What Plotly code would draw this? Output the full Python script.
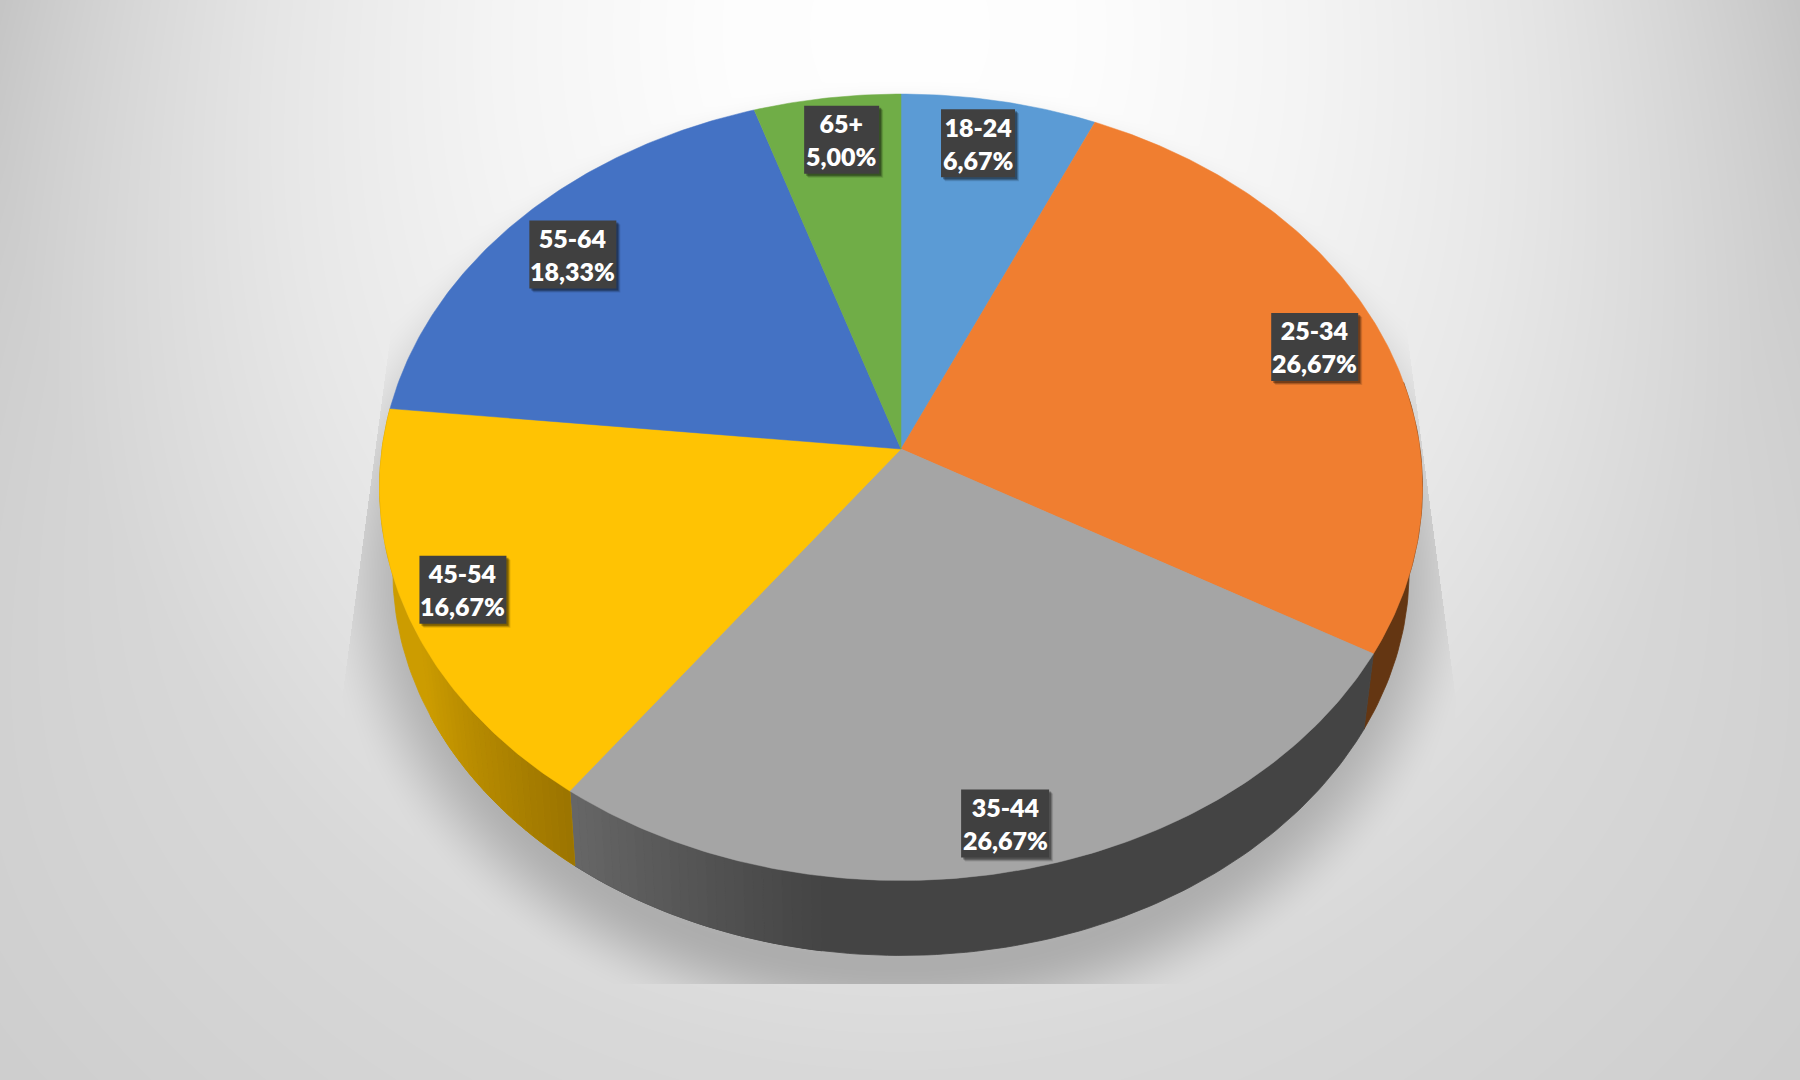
import base64, math, struct, zlib
import numpy as np
import plotly.graph_objects as go

categories = ["18-24", "25-34", "35-44", "45-54", "55-64", "65+"]
percent_values = [6.67, 26.67, 26.67, 16.67, 18.33, 5.00]
percent_labels = ["6,67%", "26,67%", "26,67%", "16,67%", "18,33%", "5,00%"]
slice_colors = ["#5B9BD5", "#F07E30", "#A5A5A5", "#FFC303", "#4472C4", "#70AD47"]

W, H = 1800, 1080
# perspective projection of the pie's top and bottom discs
CX = 901
TOP = dict(apex=449.0, a=389.5, b=519.0, k=0.0973)
BOT = dict(apex=528.0, a=380.0, b=505.0, k=0.111)
LABEL_RADIUS = [0.865, 0.861, 0.898, 0.887, 0.847, 0.869]
LABEL_SHIFT = [-1.3, -0.2, 0.2, 0.8, -0.7, 0.8]
LABEL_W = [74, 87, 88, 87, 87, 75]
LABEL_H = 68


def project(deg, r, d):
    t = np.radians(deg)
    x, y = r * np.sin(t), r * np.cos(t)
    den = 1 + d["k"] * y
    return CX + d["b"] * x / den, d["apex"] - d["a"] * y / den


def png_uri(arr):
    raw = b"".join(b"\x00" + row.tobytes() for row in arr)
    def chunk(tag, data):
        return struct.pack(">I", len(data)) + tag + data + struct.pack(">I", zlib.crc32(tag + data))
    png = b"\x89PNG\r\n\x1a\n" + chunk(b"IHDR", struct.pack(">IIBBBBB", arr.shape[1], arr.shape[0], 8, 0, 0, 0, 0)) \
        + chunk(b"IDAT", zlib.compress(raw, 9)) + chunk(b"IEND", b"")
    return "data:image/png;base64," + base64.b64encode(png).decode()


def background():
    X, Y = np.meshgrid(np.arange(W) + .5, np.arange(H) + .5)
    dx, dy = X - 900, Y - 30
    r = np.sqrt((dx / 900) ** 2 + (dy / 1040) ** 2)
    v = np.interp(r, [0, .2, .45, .7, 1.0, 1.5], [255, 253, 245, 234, 217, 204])
    v = v - 20 * (np.abs(dx) / 900) ** 4 * (1 - Y / H) ** 2
    # soft shadow under the pie, clipped to a trapezoid
    r2 = np.sqrt(((X - 900) / 470) ** 2 + ((Y - 565) / 390) ** 2)
    s = np.clip((1.25 - r2) / .22, 0, 1)
    s = s * s * (3 - 2 * s)
    half = 517 + (Y - 400) * (40 / 300)
    mask = (np.abs(X - 899) < half) & (Y < 984)
    v = v * (1 - .22 * s * mask)
    return np.clip(v, 0, 255).astype(np.uint8)


def mix(c1, c2, t):
    t = min(max(t, 0), 1)
    return "rgb(%d,%d,%d)" % tuple(round(a + (b - a) * t) for a, b in zip(c1, c2))


def side_color(i, deg):
    if i == 1:
        return "rgb(100,54,18)"
    if i == 2:
        return mix((103, 103, 103), (68, 68, 68), (216 - deg) / 28)
    if i == 3:
        return mix((155, 116, 0), (204, 156, 0), (deg - 216) / 26)
    return "rgb(80,80,80)"


def wall(fig, lo, hi, col):
    seg = np.linspace(lo, hi, max(3, int((hi - lo) / 1.0) + 2))
    x1, y1 = project(seg, 1, TOP)
    x2, y2 = project(seg[::-1], 1, BOT)
    fig.add_trace(go.Scatter(
        x=np.r_[x1, x2, x1[0]], y=np.r_[y1, y2, y1[0]], mode="lines", fill="toself", fillcolor=col,
        line=dict(color=col, width=0.8), hoverinfo="skip", showlegend=False))


fig = go.Figure()
total = sum(percent_values)
edges = np.concatenate([[0], np.cumsum(percent_values)]) / total * 360

# side wall: flat base, then gradient strips near the slice joint
for i, cat in enumerate(categories):
    lo, hi = max(edges[i], 80), min(edges[i + 1], 280)
    if lo >= hi:
        continue
    if i == 1:
        wall(fig, lo, hi, side_color(1, hi))
    elif i == 2:
        wall(fig, lo, hi, side_color(2, lo))
        a = np.linspace(hi - 28, hi, 29)
        for j in range(28):
            wall(fig, a[j], a[j + 1], side_color(2, (a[j] + a[j + 1]) / 2))
    elif i == 3:
        wall(fig, lo, hi, side_color(3, hi))
        a = np.linspace(lo, lo + 26, 27)
        for j in range(26):
            wall(fig, a[j], a[j + 1], side_color(3, (a[j] + a[j + 1]) / 2))

# top face
for i, cat in enumerate(categories):
    a = np.linspace(edges[i], edges[i + 1], max(8, int(percent_values[i] * 6)))
    x, y = project(a, 1, TOP)
    px, py = project(np.array([0.0]), 0, TOP)
    fig.add_trace(go.Scatter(
        x=np.r_[px, x, px], y=np.r_[py, y, py], mode="lines", fill="toself",
        fillcolor=slice_colors[i], line=dict(color=slice_colors[i], width=0.5),
        name=cat, text=f"{cat}: {percent_labels[i]}", hoverinfo="text", showlegend=False))

# data labels
shapes, annotations = [], []
for i, cat in enumerate(categories):
    mid = (edges[i] + edges[i + 1]) / 2 + LABEL_SHIFT[i]
    x, y = project(np.array([mid]), LABEL_RADIUS[i], TOP)
    x, y = float(x[0]), float(y[0])
    w, h = LABEL_W[i], LABEL_H
    for off, op in ((4, .12), (3, .2), (2, .3)):
        shapes.append(dict(type="rect", xref="x", yref="y", layer="above", line_width=0,
                           fillcolor=f"rgba(0,0,0,{op})",
                           x0=x - w / 2 + off, x1=x + w / 2 + off, y0=y - h / 2 + off, y1=y + h / 2 + off))
    shapes.append(dict(type="rect", xref="x", yref="y", layer="above", line_width=0,
                       fillcolor="#404040", x0=x - w / 2, x1=x + w / 2, y0=y - h / 2, y1=y + h / 2))
    annotations.append(dict(
        x=x, y=y, xref="x", yref="y", showarrow=False, align="center",
        text=f"{cat}<br>{percent_labels[i]}",
        font=dict(family="Lato, 'Open Sans', sans-serif", size=25, color="white", weight=800)))

fig.update_layout(
    width=W, height=H, autosize=False, margin=dict(l=0, r=0, t=0, b=0),
    paper_bgcolor="#d8d8d8", plot_bgcolor="rgba(0,0,0,0)", showlegend=False,
    xaxis=dict(range=[0, W], visible=False, fixedrange=True),
    yaxis=dict(range=[H, 0], visible=False, fixedrange=True),
    shapes=shapes, annotations=annotations,
    images=[dict(source=png_uri(background()), xref="x", yref="y", x=0, y=0, sizex=W, sizey=H,
                 sizing="stretch", xanchor="left", yanchor="top", layer="below")],
)
fig.write_html("out.html", config=dict(displayModeBar=False),
               post_script="document.body.style.margin='0';document.body.style.overflow='hidden';")
